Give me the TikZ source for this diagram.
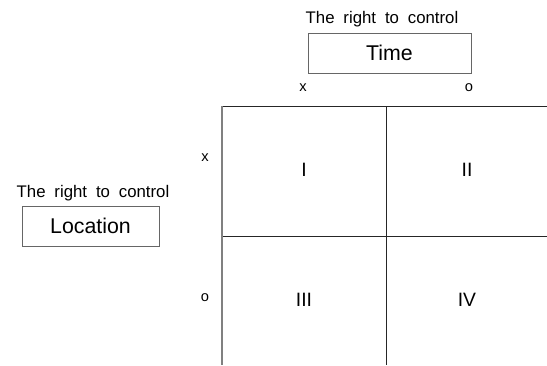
\documentclass[tikz,border=0pt]{standalone}
\usepackage{fontspec}
\setmainfont{Liberation Sans}
\newfontfamily\capfont[WordSpace=1.9]{Liberation Sans}
\begin{document}
\begin{tikzpicture}[x=0.75pt,y=-0.75pt,
  caption/.style={font=\capfont\fontsize{12.6}{14}\selectfont, inner sep=0pt},
  titlebox/.style={draw=black!60, line width=0.75pt, minimum width=#1*0.75pt, minimum height=40*0.75pt, inner sep=0pt, font=\fontsize{16}{18}\selectfont},
  axislabel/.style={font=\fontsize{11}{13}\selectfont, inner sep=0pt},
  cell/.style={font=\fontsize{14.5}{17}\selectfont, inner sep=0pt},
  gridline/.style={draw=black!85, line width=0.7pt}]
\useasboundingbox (0,0) rectangle (547,365);
% headers
\node[caption] (tcap) at (382,19) {The right to control};
\node[titlebox=163] (time) at (389.5,53) {Time};
\node[caption] (lcap) at (93,193) {The right to control};
\node[titlebox=137] (loc) at (90.5,226) {Location};
% axis labels
\node[axislabel] (cx) at (303,88) {x};
\node[axislabel] (co) at (469,88) {o};
\node[axislabel] (rx) at (205,158) {x};
\node[axislabel] (ro) at (205,298) {o};
% grid
\coordinate (tl) at (222,106);
\coordinate (tr) at (547,106);
\coordinate (bl) at (222,365);
\coordinate (tm) at (386,106);
\coordinate (bm) at (386,365);
\coordinate (ml) at (222,236);
\coordinate (mr) at (547,236);
\draw[gridline] (tl) -- (tr);
\draw[gridline] (ml) -- (mr);
\draw[gridline] (tm) -- (bm);
\draw[draw=black!50, line width=1.1pt] (tl) -- (bl);
% cells
\node[cell] (c1) at (304,170) {I};
\node[cell] (c2) at (467,170) {II};
\node[cell] (c3) at (304,300) {III};
\node[cell] (c4) at (467,300) {IV};
\end{tikzpicture}
\end{document}
